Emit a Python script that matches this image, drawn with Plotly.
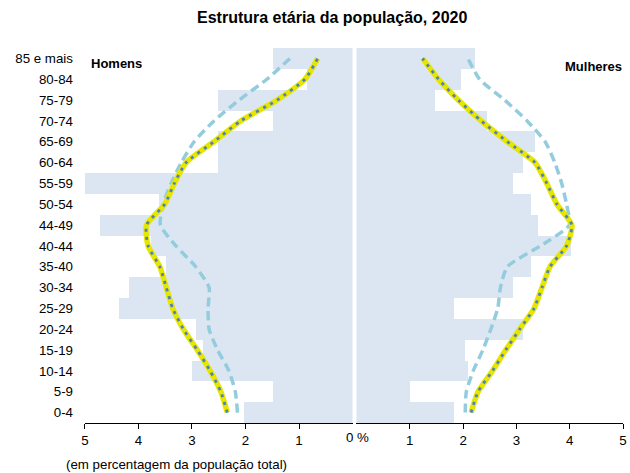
import plotly.graph_objects as go

ages = ["0-4", "5-9", "10-14", "15-19", "20-24", "25-29", "30-34", "35-40", "40-44",
        "44-49", "50-54", "55-59", "60-64", "65-69", "70-74", "75-79", "80-84", "85 e mais"]

# Bars (light blue)
homens_bar = [2.02, 1.48, 3.0, 2.8, 2.93, 4.37, 4.17, 3.48, 3.76,
              4.72, 3.61, 5.0, 2.52, 2.52, 1.48, 2.52, 0.85, 1.48]
mulheres_bar = [1.83, 1.0, 2.1, 2.03, 3.13, 1.83, 2.93, 3.28, 4.03,
                3.41, 3.28, 2.93, 3.13, 3.34, 2.45, 1.48, 1.97, 2.23]

# Yellow / blue dotted line
homens_linha = [2.34, 2.46, 2.66, 2.9, 3.16, 3.36, 3.48, 3.6, 3.82,
                3.85, 3.51, 3.33, 3.11, 2.59, 2.09, 1.41, 0.89, 0.65]
mulheres_linha = [2.15, 2.28, 2.55, 2.8, 3.06, 3.33, 3.48, 3.63, 3.94,
                  4.04, 3.76, 3.57, 3.35, 2.83, 2.34, 1.91, 1.54, 1.24]

# Dashed teal line
homens_tracejado = [2.15, 2.19, 2.31, 2.52, 2.68, 2.7, 2.68, 2.93, 3.3,
                    3.59, 3.54, 3.39, 3.2, 2.96, 2.59, 2.12, 1.6, 1.17]
mulheres_tracejado = [2.04, 2.06, 2.19, 2.37, 2.52, 2.65, 2.7, 2.83, 3.45,
                      3.99, 3.94, 3.85, 3.72, 3.54, 3.2, 2.78, 2.31, 2.09]

ticks_x = [5, 4, 3, 2, 1]

BAR = "#DCE6F2"
YEL = "#E6E600"
BLUE = "#4F81BD"
TEAL = "#93CDDD"
FONT = "Liberation Sans, Arial, sans-serif"
FS = 13.3

ypos = list(range(len(ages)))

fig = go.Figure()

for xa, ya, bar, linha, trac in [("x", "y", homens_bar, homens_linha, homens_tracejado),
                                 ("x2", "y2", mulheres_bar, mulheres_linha, mulheres_tracejado)]:
    fig.add_trace(go.Bar(x=bar, y=ypos, orientation="h", marker=dict(color=BAR, line=dict(width=0)),
                         xaxis=xa, yaxis=ya, showlegend=False, hoverinfo="skip"))
    fig.add_trace(go.Scatter(x=trac, y=ypos, mode="lines", xaxis=xa, yaxis=ya, showlegend=False,
                             line=dict(color=TEAL, width=3.5, dash="9px,5px", shape="spline", smoothing=0.6)))
    fig.add_trace(go.Scatter(x=linha, y=ypos, mode="lines", xaxis=xa, yaxis=ya, showlegend=False,
                             line=dict(color=YEL, width=5.5, shape="spline", smoothing=0.6)))
    fig.add_trace(go.Scatter(x=linha, y=ypos, mode="lines", xaxis=xa, yaxis=ya, showlegend=False,
                             line=dict(color=BLUE, width=2.8, dash="3px,5px", shape="spline", smoothing=0.6)))

W, H = 630, 473


def px(x):
    return x / W


def py(y):
    return (H - y) / H


yd = [py(423), py(48)]

axis_common = dict(showgrid=False, zeroline=False, showline=True, linecolor="black", linewidth=1,
                   ticks="outside", ticklen=5, tickcolor="black", tickvals=ticks_x,
                   ticktext=[str(v) for v in ticks_x], tickfont=dict(size=FS, color="black", family=FONT),
                   ticklabeloverflow="allow", fixedrange=True)

fig.update_layout(
    width=W, height=H,
    margin=dict(l=0, r=0, t=0, b=0),
    plot_bgcolor="white", paper_bgcolor="white",
    bargap=0,
    font=dict(family=FONT, color="black"),
    xaxis=dict(domain=[px(82), px(353)], range=[5, 0], anchor="y", **axis_common),
    xaxis2=dict(domain=[px(357), px(627)], range=[0, 5], anchor="y2", **axis_common),
    yaxis=dict(domain=yd, range=[-0.5, len(ages) - 0.5], tickvals=ypos, ticktext=ages,
               showgrid=False, zeroline=False, showline=False, ticks="", ticklabelstandoff=11,
               tickfont=dict(size=FS, color="black", family=FONT), anchor="x", fixedrange=True),
    yaxis2=dict(domain=yd, range=[-0.5, len(ages) - 0.5], showticklabels=False,
                showgrid=False, zeroline=False, showline=False, ticks="", anchor="x2", fixedrange=True),
    annotations=[
        dict(text="<b>Estrutura etária da população, 2020</b>", x=px(332), y=py(17.5),
             xref="paper", yref="paper", xanchor="center", yanchor="middle", showarrow=False,
             font=dict(size=16, family=FONT)),
        dict(text="<b>Homens</b>", x=px(86), y=py(64), xref="paper", yref="paper",
             xanchor="left", yanchor="middle", showarrow=False, font=dict(size=13, family=FONT)),
        dict(text="<b>Mulheres</b>", x=px(628), y=py(66), xref="paper", yref="paper",
             xanchor="right", yanchor="middle", showarrow=False, font=dict(size=13, family=FONT)),
        dict(text="0 %", x=px(358), y=py(437), xref="paper", yref="paper",
             xanchor="center", yanchor="middle", showarrow=False, font=dict(size=FS, family=FONT)),
        dict(text="(em percentagem da população total)", x=px(61), y=py(464),
             xref="paper", yref="paper", xanchor="left", yanchor="middle", showarrow=False,
             font=dict(size=FS, family=FONT)),
    ],
)

fig.write_html(
    "out.html",
    config={"displayModeBar": False, "staticPlot": True},
    post_script="document.body.style.margin='0';document.body.style.overflow='hidden';"
                "document.documentElement.style.overflow='hidden';",
)
